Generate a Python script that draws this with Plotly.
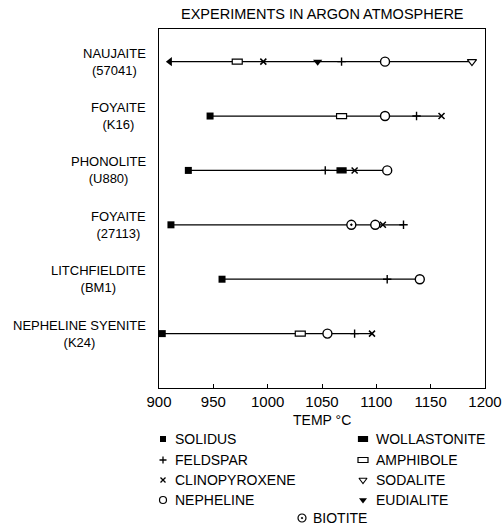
import plotly.graph_objects as go

# ---- data -----------------------------------------------------------------
samples = ["NAUJAITE<br>(57041)", "FOYAITE<br>(K16)", "PHONOLITE<br>(U880)",
           "FOYAITE<br>(27113)", "LITCHFIELDITE<br>(BM1)", "NEPHELINE SYENITE<br>(K24)"]
row_pos = [6, 5, 4, 3, 2, 1]

# temperatures (deg C) at which each phase appears; None = not observed
solidus       = [None, 947, 927, 911, 958, 903]
below_range   = [910, None, None, None, None, None]   # solidus lies below this value
feldspar      = [1068, 1137, 1053, 1125, 1110, 1080]
clinopyroxene = [996, 1160, 1080, 1106, None, 1096]
nepheline     = [1108, 1108, 1110, 1099, 1140, 1055]
biotite       = [None, None, None, 1077, None, None]
wollastonite  = [None, None, 1068, None, None, None]
amphibole     = [972, 1068, None, None, None, 1030]
sodalite      = [1188, None, None, None, None, None]
eudialite     = [1046, None, None, None, None, None]

x_ticks = [900, 950, 1000, 1050, 1100, 1150, 1200]

# ---- page geometry (pixels) -------------------------------------------------
W, H = 504, 526
PX_L, PX_R, PX_T, PX_B = 159, 485, 29, 388
X_RANGE = [900, 1200]
Y_RANGE = [0.0, 6.6]
px_per_deg = (PX_R - PX_L) / (X_RANGE[1] - X_RANGE[0])
px_per_row = (PX_B - PX_T) / (Y_RANGE[1] - Y_RANGE[0])

FONT = "Liberation Sans"
INK = "black"
CLEAR = "rgba(0,0,0,0)"

fig = go.Figure()

# horizontal line per sample spanning its observed range
all_series = [solidus, below_range, feldspar, clinopyroxene, nepheline, biotite,
              wollastonite, amphibole, sodalite, eudialite]
for i, y in enumerate(row_pos):
    vals = [s[i] for s in all_series if s[i] is not None]
    fig.add_trace(go.Scatter(x=[min(vals), max(vals)], y=[y, y], mode="lines",
                             line=dict(color=INK, width=1.3), showlegend=False,
                             hoverinfo="skip"))


def series_xy(vals):
    xs, ys = [], []
    for v, y in zip(vals, row_pos):
        if v is not None:
            xs.append(v)
            ys.append(y)
    return xs, ys


marker_styles = [
    (solidus, dict(symbol="square", size=7, color=INK, line=dict(width=0))),
    (below_range, dict(symbol="triangle-left", size=8, color=INK, line=dict(width=0))),
    (feldspar, dict(symbol="cross-thin", size=6, color=INK, line=dict(width=1.4, color=INK))),
    (clinopyroxene, dict(symbol="x-thin", size=6, color=INK, line=dict(width=1.5, color=INK))),
    (nepheline, dict(symbol="circle", size=9, color="white", line=dict(width=1.4, color=INK))),
    (biotite, dict(symbol="circle-dot", size=9, color="white", line=dict(width=1.4, color=INK))),
    (sodalite, dict(symbol="triangle-down", size=8, color="white", line=dict(width=1.2, color=INK))),
    (eudialite, dict(symbol="triangle-down", size=8, color=INK, line=dict(width=0))),
]
for vals, mk in marker_styles:
    xs, ys = series_xy(vals)
    fig.add_trace(go.Scatter(x=xs, y=ys, mode="markers", marker=mk,
                             showlegend=False, hoverinfo="skip"))


# rectangular symbols (wollastonite filled, amphibole open) as shapes
def add_rect(xc, yc, dx, dy, fill, xref="x", yref="y"):
    fig.add_shape(type="rect", xref=xref, yref=yref,
                  x0=xc - dx, x1=xc + dx, y0=yc - dy, y1=yc + dy,
                  fillcolor=fill, line=dict(color=INK, width=1.2), layer="above")


for v, y in zip(*series_xy(wollastonite)):
    add_rect(v, y, 4.5 / px_per_deg, 2.5 / px_per_row, INK)
for v, y in zip(*series_xy(amphibole)):
    add_rect(v, y, 5.0 / px_per_deg, 2.5 / px_per_row, "white")

# sample labels to the left of the frame
for lab, y in zip(samples, row_pos):
    fig.add_annotation(text=lab, x=(PX_L - 11) / W, xref="paper", y=y, yref="y",
                       xanchor="right", yanchor="middle", align="center",
                       showarrow=False, font=dict(family=FONT, size=13, color=INK))

# ---- legend, laid out on a pixel-scaled overlay axis -----------------------
legend_left = [("SOLIDUS", "sq"), ("FELDSPAR", "plus"), ("CLINOPYROXENE", "x"),
               ("NEPHELINE", "circ")]
legend_right = [("WOLLASTONITE", "wol"), ("AMPHIBOLE", "amph"),
                ("SODALITE", "sod"), ("EUDIALITE", "eud")]
legend_rows_px = [439, 460, 480, 500]
sym_map = {
    "sq": dict(symbol="square", size=6, color=INK, line=dict(width=0)),
    "plus": dict(symbol="cross-thin", size=5, color=INK, line=dict(width=1.3, color=INK)),
    "x": dict(symbol="x-thin", size=5, color=INK, line=dict(width=1.3, color=INK)),
    "circ": dict(symbol="circle", size=7, color="white", line=dict(width=1.2, color=INK)),
    "sod": dict(symbol="triangle-down", size=7, color="white", line=dict(width=1.1, color=INK)),
    "eud": dict(symbol="triangle-down", size=7, color=INK, line=dict(width=0)),
    "bio": dict(symbol="circle-dot", size=8, color="white", line=dict(width=1.2, color=INK)),
}
legend_entries = []
for (name, key), ypx in zip(legend_left, legend_rows_px):
    legend_entries.append((name, key, 163, 173, ypx))
for (name, key), ypx in zip(legend_right, legend_rows_px):
    legend_entries.append((name, key, 363, 374, ypx))
legend_entries.append(("BIOTITE", "bio", 302, 311, 518))

for name, key, mx, tx, ypx in legend_entries:
    if key == "wol":
        add_rect(mx, ypx, 4.5, 2.5, INK, xref="x2", yref="y2")
    elif key == "amph":
        add_rect(mx, ypx, 5, 2.5, "white", xref="x2", yref="y2")
    else:
        fig.add_trace(go.Scatter(x=[mx], y=[ypx], mode="markers", marker=sym_map[key],
                                 xaxis="x2", yaxis="y2", showlegend=False,
                                 hoverinfo="skip"))
    fig.add_annotation(text=name, x=tx, y=ypx, xref="x2", yref="y2",
                       xanchor="left", yanchor="middle", showarrow=False,
                       font=dict(family=FONT, size=14, color=INK))

# title and axis label
fig.add_annotation(text="EXPERIMENTS IN ARGON ATMOSPHERE", x=(PX_L + PX_R) / 2 / W,
                   y=1 - 14 / H, xref="paper", yref="paper", showarrow=False,
                   xanchor="center", yanchor="middle",
                   font=dict(family=FONT, size=14.5, color=INK))
fig.add_annotation(text="TEMP °C", x=(PX_L + PX_R) / 2 / W, y=1 - 420 / H,
                   xref="paper", yref="paper", showarrow=False,
                   xanchor="center", yanchor="middle",
                   font=dict(family=FONT, size=14, color=INK))

fig.update_layout(
    width=W, height=H, margin=dict(l=0, r=0, t=0, b=0),
    paper_bgcolor="white", plot_bgcolor=CLEAR, showlegend=False,
    xaxis=dict(domain=[PX_L / W, PX_R / W], range=X_RANGE, tickvals=x_ticks,
               ticks="inside", ticklen=4, tickwidth=1.2, tickcolor=INK,
               showgrid=False, zeroline=False, showline=True, linecolor=INK,
               linewidth=1.4, mirror=True, automargin=False,
               tickfont=dict(family=FONT, size=15, color=INK)),
    yaxis=dict(domain=[1 - PX_B / H, 1 - PX_T / H], range=Y_RANGE,
               showticklabels=False, ticks="", showgrid=False, zeroline=False,
               showline=True, linecolor=INK, linewidth=1.4, mirror=True,
               automargin=False),
    xaxis2=dict(domain=[0, 1], range=[0, W], visible=False, anchor="y2"),
    yaxis2=dict(domain=[0, 1], range=[H, 0], visible=False, anchor="x2"),
)

fig.write_html("out.html")
